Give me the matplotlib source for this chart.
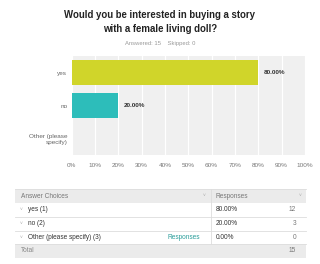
import matplotlib
matplotlib.use("Agg")
import matplotlib.pyplot as plt
from matplotlib.patches import Rectangle

plt.rcParams['font.family'] = ['Liberation Sans', 'DejaVu Sans']

title = "Would you be interested in buying a story\nwith a female living doll?"
subtitle = "Answered: 15    Skipped: 0"
categories = ["yes", "no", "Other (please\nspecify)"]
values = [80.0, 20.0, 0.0]
bar_colors = ["#D0D52A", "#2DBDBA", "#9E9E9E"]
xticks = [0, 10, 20, 30, 40, 50, 60, 70, 80, 90, 100]
xtick_labels = [f"{t}%" for t in xticks]

table_header = ["Answer Choices", "Responses"]
table_choices = ["yes (1)", "no (2)", "Other (please specify) (3)"]
table_pcts = ["80.00%", "20.00%", "0.00%"]
table_counts = ["12", "3", "0"]
total_label = "Total"
total_count = "15"

W, H = 320, 264
fig = plt.figure(figsize=(W / 100, H / 100), dpi=100)
fig.patch.set_facecolor("white")

def fx(x):
    return x / W

def fy(y):
    return 1 - y / H

# Title
fig.text(fx(160), fy(22.5), title, ha="center", va="center", fontsize=6.9,
         fontweight="bold", color="#222222", linespacing=1.5)
fig.text(fx(160), fy(44), subtitle, ha="center", va="center", fontsize=4.2,
         color="#999999")

# Bar chart
ax = fig.add_axes([fx(71.5), fy(155), fx(305) - fx(71.5), (155 - 56) / H])
ax.set_facecolor("#F0F0F0")
ypos = list(range(len(categories)))
ax.barh(ypos, values, height=0.74, color=bar_colors, zorder=3)
ax.set_xlim(0, 100)
ax.set_ylim(len(categories) - 0.5, -0.5)
ax.set_xticks(xticks)
ax.set_xticklabels(xtick_labels, fontsize=4.6, color="#777777")
ax.set_yticks(ypos)
ax.set_yticklabels(categories, fontsize=4.6, color="#666666", linespacing=1.3)
ax.tick_params(length=0, pad=3)
ax.tick_params(axis="x", pad=5.5)
for s in ax.spines.values():
    s.set_visible(False)
ax.grid(axis="x", color="white", linewidth=0.9, zorder=1)
ax.set_axisbelow(True)
for i, v in enumerate(values):
    if v > 0:
        ax.text(v + 2.5, i, f"{v:.2f}%", va="center", ha="left", fontsize=4.6,
                fontweight="bold", color="#333333", zorder=4)

# Table
L, R, DIV = 15, 306, 211
top, hdr_bot = 189, 203
row_edges = [203, 216.5, 230.5, 244]
tot_bot = 258
line_c = "#DDDDDD"

fig.patches.append(Rectangle((fx(L), fy(hdr_bot)), fx(R) - fx(L), (hdr_bot - top) / H,
                             transform=fig.transFigure, facecolor="#EBEBEB",
                             edgecolor="none", zorder=0))
fig.patches.append(Rectangle((fx(L), fy(tot_bot)), fx(R) - fx(L), (tot_bot - row_edges[-1]) / H,
                             transform=fig.transFigure, facecolor="#EBEBEB",
                             edgecolor="none", zorder=0))
fig.add_artist(plt.Line2D([fx(L), fx(R)], [fy(top), fy(top)], color=line_c, lw=0.6,
                          transform=fig.transFigure))
for y in row_edges[1:]:
    fig.add_artist(plt.Line2D([fx(L), fx(R)], [fy(y), fy(y)], color=line_c, lw=0.6,
                              transform=fig.transFigure))
fig.add_artist(plt.Line2D([fx(DIV), fx(DIV)], [fy(top), fy(row_edges[-1])], color=line_c,
                          lw=0.6, transform=fig.transFigure))

fs = 4.7
hy = (top + hdr_bot) / 2
fig.text(fx(21), fy(hy), table_header[0], ha="left", va="center", fontsize=fs, color="#777777")
fig.text(fx(216), fy(hy), table_header[1], ha="left", va="center", fontsize=fs, color="#777777")
fig.text(fx(204), fy(hy), "˅", ha="center", va="center", fontsize=3.5, color="#AAAAAA")
fig.text(fx(300), fy(hy), "˅", ha="center", va="center", fontsize=3.5, color="#AAAAAA")

for i, (c, p, n) in enumerate(zip(table_choices, table_pcts, table_counts)):
    yc = (row_edges[i] + row_edges[i + 1]) / 2
    fig.text(fx(21), fy(yc), "˅", ha="center", va="center", fontsize=3.5, color="#AAAAAA")
    fig.text(fx(27.5), fy(yc), c, ha="left", va="center", fontsize=fs, color="#333333")
    fig.text(fx(216), fy(yc), p, ha="left", va="center", fontsize=fs, color="#333333")
    fig.text(fx(296), fy(yc), n, ha="right", va="center", fontsize=fs, color="#777777")
    if i == len(table_choices) - 1:
        fig.text(fx(200), fy(yc), "Responses", ha="right", va="center", fontsize=fs,
                 color="#2A9D9A")

ty = (row_edges[-1] + tot_bot) / 2
fig.text(fx(21), fy(ty), total_label, ha="left", va="center", fontsize=fs, color="#888888")
fig.text(fx(296), fy(ty), total_count, ha="right", va="center", fontsize=fs, color="#777777")

fig.savefig("out.png", dpi=100, facecolor="white")
